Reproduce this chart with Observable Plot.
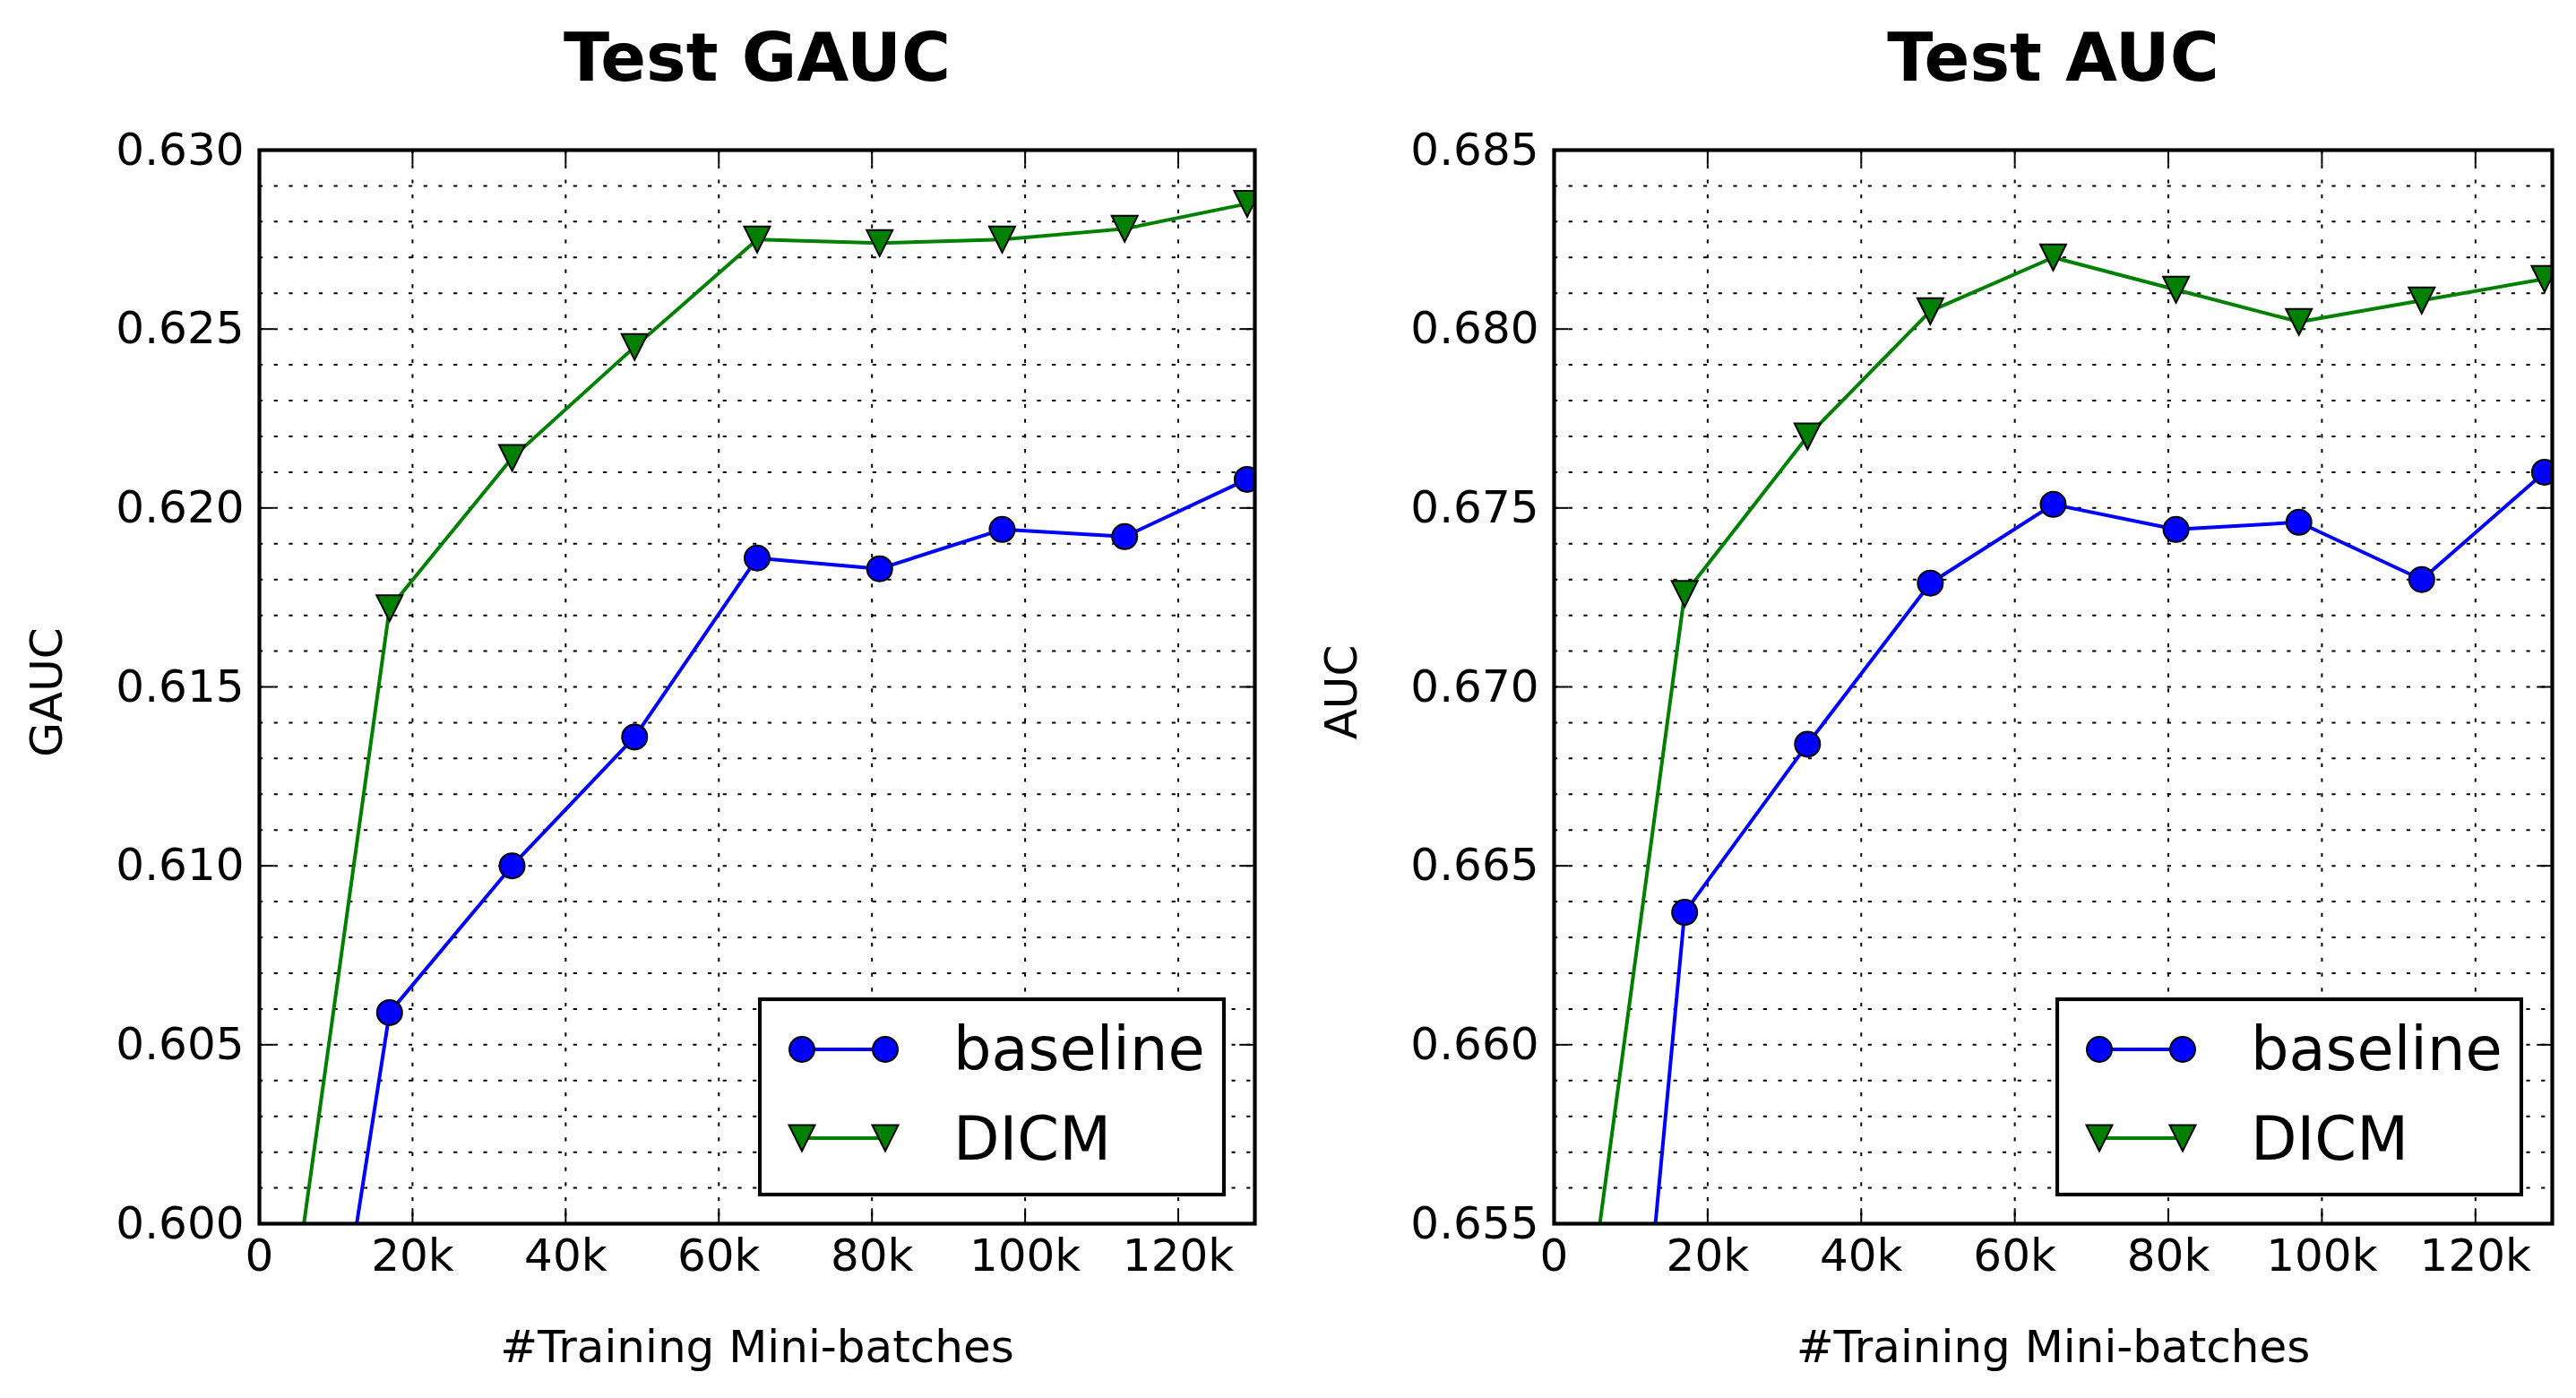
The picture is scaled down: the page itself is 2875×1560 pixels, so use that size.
<!DOCTYPE html>
<html><head><meta charset="utf-8">
<script src="https://cdn.jsdelivr.net/npm/d3@7"></script>
<script src="https://cdn.jsdelivr.net/npm/@observablehq/plot@0.6"></script>
<style>
html,body{margin:0;padding:0;background:#fff;}
#root{position:relative;width:2875px;height:1560px;overflow:hidden;font-family:"DejaVu Sans";background:#fff;}
.panel{position:absolute;top:0;}
.legend{position:absolute;}
</style></head><body><div id="root"></div>
<script>
// ---- data ----
const steps = [1000, 17000, 33000, 49000, 65000, 81000, 97000, 113000, 129000];
const gaucBaseline = [0.5839, 0.6059, 0.6100, 0.6136, 0.6186, 0.6183, 0.6194, 0.6192, 0.6208];
const gaucDICM     = [0.5926, 0.6172, 0.6214, 0.6245, 0.6275, 0.6274, 0.6275, 0.6278, 0.6285];
const aucBaseline  = [0.6271, 0.6637, 0.6684, 0.6729, 0.6751, 0.6744, 0.6746, 0.6730, 0.6760];
const aucDICM      = [0.6471, 0.6726, 0.6770, 0.6805, 0.6820, 0.6811, 0.6802, 0.6808, 0.6814];
const seriesNames = ["baseline", "DICM"];
const seriesColors = ["#0000ff", "#008000"];
const xTicks = [0, 20000, 40000, 60000, 80000, 100000, 120000];
const xTickLabels = ["0", "20k", "40k", "60k", "80k", "100k", "120k"];
const gaucTicks = [0.600, 0.605, 0.610, 0.615, 0.620, 0.625, 0.630];
const aucTicks = [0.655, 0.660, 0.665, 0.670, 0.675, 0.680, 0.685];
const xLabel = "#Training Mini-batches";

const triangleDown = {
  draw(ctx, size) {
    const r = Math.sqrt(size / Math.PI);
    ctx.moveTo(0, r); ctx.lineTo(-r, -r); ctx.lineTo(r, -r); ctx.closePath();
  }
};
const symbols = ["circle", triangleDown];
const radii = [14, 14.5];

const root = document.getElementById("root");
const H = 1560, MT = 167, MB = 195;

function panel({left, width, marginLeft, marginRight, ticks, title, ylabel, values}) {
  const innerW = width - marginLeft - marginRight;
  const innerH = H - MT - MB;
  const lo = ticks[0], hi = ticks[ticks.length - 1];
  const grid = d3.range(Math.round((hi - lo) * 1000) - 1).map(i => +(lo + (i + 1) * 0.001).toFixed(3));
  const inner = ticks.slice(1, -1);
  const xin = xTicks.slice(1);
  const rows = [];
  values.forEach((vals, s) => vals.forEach((v, i) => rows.push({step: steps[i], value: v, series: s})));
  const marks = [
    Plot.ruleY(grid, {y: d => d, stroke: "black", strokeWidth: 2, strokeDasharray: "4.2,12.5"}),
    Plot.ruleX(xin, {x: d => d, stroke: "black", strokeWidth: 2, strokeDasharray: "4.2,12.5"}),
    Plot.ruleX(xin, {x: d => d, stroke: "black", strokeWidth: 2, insetTop: innerH - 16.7}),
    Plot.ruleX(xin, {x: d => d, stroke: "black", strokeWidth: 2, insetBottom: innerH - 16.7}),
    Plot.ruleY(inner, {y: d => d, stroke: "black", strokeWidth: 2, insetRight: innerW - 16.7}),
    Plot.ruleY(inner, {y: d => d, stroke: "black", strokeWidth: 2, insetLeft: innerW - 16.7}),
  ];
  values.forEach((vals, s) => {
    const d = rows.filter(r => r.series === s);
    marks.push(Plot.line(d, {x: "step", y: "value", stroke: seriesColors[s], strokeWidth: 4, clip: true}));
  });
  values.forEach((vals, s) => {
    const d = rows.filter(r => r.series === s);
    marks.push(Plot.dot(d, {x: "step", y: "value", r: radii[s], symbol: symbols[s], fill: seriesColors[s], stroke: "black", strokeWidth: 2, clip: true}));
  });
  marks.push(Plot.frame({stroke: "black", strokeWidth: 4.2}));
  marks.push(Plot.text([title], {text: d => d, frameAnchor: "top", dy: -78, lineAnchor: "bottom", fontSize: 75, fontWeight: "bold"}));
  marks.push(Plot.text([xLabel], {text: d => d, frameAnchor: "bottom", dy: 154, lineAnchor: "bottom", fontSize: 50}));
  marks.push(Plot.text([ylabel], {text: d => d, frameAnchor: "left", dx: -237, dy: 6, rotate: -90, textAnchor: "middle", lineAnchor: "middle", fontSize: 50}));
  const svg = Plot.plot({
    width, height: H, marginLeft, marginRight, marginTop: MT, marginBottom: MB,
    style: {fontFamily: "DejaVu Sans", fontSize: "50px", background: "white", maxWidth: "none", color: "black", overflow: "visible"},
    x: {domain: [0, 130000], ticks: xTicks, tickFormat: d => xTickLabels[xTicks.indexOf(d)], tickSize: 0, tickPadding: 17, label: null},
    y: {domain: [lo, hi], ticks: ticks, tickFormat: d3.format(".3f"), tickSize: 0, tickPadding: 17, label: null},
    marks
  });
  svg.classList.add("panel");
  svg.style.left = left + "px";
  svg.style.position = "absolute";
  svg.style.top = "0px";
  root.appendChild(svg);

  // legend
  const frameRight = left + width - marginRight;
  const LW = 522, LH = 222;
  const lg = d3.create("svg").attr("class", "legend").attr("width", LW).attr("height", LH)
    .style("left", (frameRight - 32 - LW) + "px").style("top", "1113px").style("position", "absolute");
  lg.append("rect").attr("x", 2).attr("y", 2).attr("width", LW - 4).attr("height", LH - 4)
    .attr("fill", "white").attr("stroke", "black").attr("stroke-width", 4.2);
  seriesNames.forEach((name, s) => {
    const cy = 58 + s * 99;
    lg.append("line").attr("x1", 49).attr("x2", 142).attr("y1", cy).attr("y2", cy)
      .attr("stroke", seriesColors[s]).attr("stroke-width", 4);
    [49, 142].forEach(cx => {
      lg.append("path").attr("transform", `translate(${cx},${cy})`)
        .attr("d", d3.symbol(s === 0 ? d3.symbolCircle : triangleDown, radii[s] * radii[s] * Math.PI)())
        .attr("fill", seriesColors[s]).attr("stroke", "black").attr("stroke-width", 2);
    });
    lg.append("text").attr("x", 218).attr("y", 81 + s * 100).attr("font-family", "DejaVu Sans")
      .attr("font-size", 67).attr("fill", "black").text(name);
  });
  root.appendChild(lg.node());
}

panel({left: 0, width: 1437, marginLeft: 289, marginRight: 37, ticks: gaucTicks, title: "Test GAUC", ylabel: "GAUC", values: [gaucBaseline, gaucDICM]});
panel({left: 1437, width: 1438, marginLeft: 297, marginRight: 27, ticks: aucTicks, title: "Test AUC", ylabel: "AUC", values: [aucBaseline, aucDICM]});
</script></body></html>
